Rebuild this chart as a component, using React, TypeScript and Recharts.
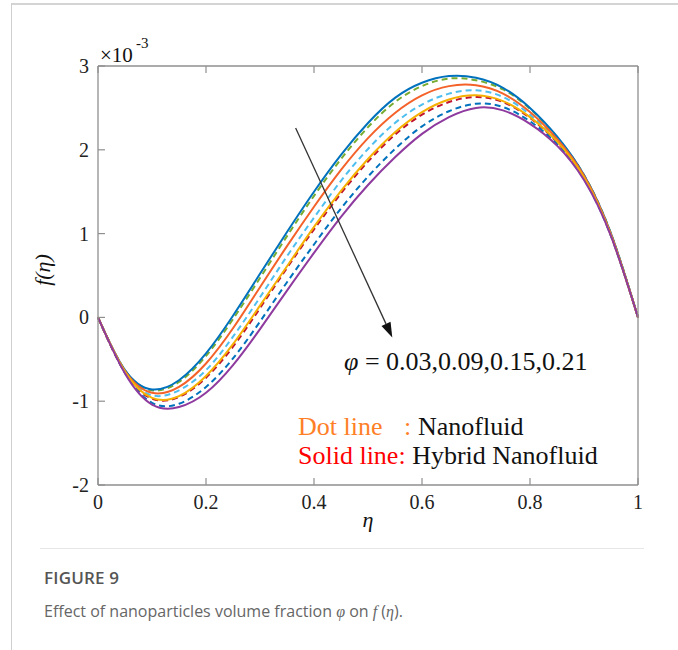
import React from "react";
import { LineChart, Line, XAxis, YAxis, ReferenceLine } from "recharts";

// η grid
const eta = [0, 0.05, 0.1, 0.15, 0.2, 0.25, 0.3, 0.35, 0.4, 0.45, 0.5, 0.55, 0.6, 0.65, 0.7, 0.75, 0.8, 0.85, 0.9, 0.95, 1];

// f(η) ×10^-3 — solid lines: Hybrid nanofluid, φ = 0.03, 0.09, 0.15, 0.21
const hybrid003 = [0, -0.63, -0.86, -0.75, -0.43, 0.02, 0.52, 1.02, 1.5, 1.94, 2.32, 2.62, 2.8, 2.88, 2.86, 2.74, 2.5, 2.16, 1.7, 1.0, 0];
const hybrid009 = [0, -0.64, -0.9, -0.83, -0.55, -0.13, 0.36, 0.85, 1.32, 1.76, 2.14, 2.44, 2.65, 2.76, 2.77, 2.67, 2.45, 2.13, 1.69, 0.99, 0];
const hybrid015 = [0, -0.65, -0.96, -0.94, -0.7, -0.32, 0.14, 0.61, 1.08, 1.51, 1.89, 2.21, 2.45, 2.6, 2.65, 2.58, 2.39, 2.1, 1.67, 0.98, 0];
const hybrid021 = [0, -0.67, -1.04, -1.07, -0.9, -0.57, -0.14, 0.32, 0.77, 1.2, 1.58, 1.91, 2.19, 2.39, 2.5, 2.47, 2.31, 2.05, 1.64, 0.97, 0];

// dashed lines: Nanofluid, φ = 0.03, 0.09, 0.15, 0.21
const nano003 = [0, -0.63, -0.87, -0.77, -0.46, -0.02, 0.47, 0.97, 1.45, 1.89, 2.27, 2.57, 2.76, 2.85, 2.83, 2.72, 2.49, 2.15, 1.7, 1.0, 0];
const nano009 = [0, -0.65, -0.93, -0.87, -0.63, -0.23, 0.24, 0.73, 1.19, 1.63, 2.01, 2.32, 2.54, 2.67, 2.71, 2.63, 2.42, 2.11, 1.68, 0.99, 0];
const nano015 = [0, -0.66, -0.97, -0.95, -0.72, -0.35, 0.11, 0.59, 1.05, 1.48, 1.86, 2.18, 2.42, 2.57, 2.63, 2.57, 2.38, 2.09, 1.66, 0.98, 0];
const nano021 = [0, -0.66, -1.02, -1.03, -0.83, -0.49, -0.05, 0.42, 0.87, 1.3, 1.68, 2.01, 2.28, 2.46, 2.55, 2.51, 2.34, 2.07, 1.65, 0.97, 0];

const xTicks = [0, 0.2, 0.4, 0.6, 0.8, 1];
const yTicks = [-2, -1, 0, 1, 2, 3];

const data = eta.map((e, i) => ({
  eta: e,
  h1: hybrid003[i],
  h2: hybrid009[i],
  h3: hybrid015[i],
  h4: hybrid021[i],
  n1: nano003[i],
  n2: nano009[i],
  n3: nano015[i],
  n4: nano021[i],
}));

const series = [
  { key: "n1", color: "#77AC30", dash: true },
  { key: "n2", color: "#4DBEEE", dash: true },
  { key: "n3", color: "#C0142F", dash: true },
  { key: "n4", color: "#0072BD", dash: true },
  { key: "h1", color: "#0072BD", dash: false },
  { key: "h2", color: "#F4622A", dash: false },
  { key: "h3", color: "#F5B000", dash: false },
  { key: "h4", color: "#8E3A9E", dash: false },
];

const AXIS = "#8f8f8f";
const SERIF = "'Liberation Serif', 'Times New Roman', serif";
const TL = 7;

const BottomTick = (p: any) => (
  <g>
    <line x1={p.x} y1={p.y} x2={p.x} y2={p.y - TL} stroke={AXIS} strokeWidth={1.2} />
    <text x={p.x} y={p.y + 24} textAnchor="middle" fontFamily={SERIF} fontSize={20} fill="#222">
      {String(p.payload.value)}
    </text>
  </g>
);
const TopTick = (p: any) => (
  <line x1={p.x} y1={p.y} x2={p.x} y2={p.y + TL} stroke={AXIS} strokeWidth={1.2} />
);
const LeftTick = (p: any) => (
  <g>
    <line x1={p.x} y1={p.y} x2={p.x + TL} y2={p.y} stroke={AXIS} strokeWidth={1.2} />
    <text x={p.x - 9} y={p.y + 7} textAnchor="end" fontFamily={SERIF} fontSize={20} fill="#222">
      {String(p.payload.value)}
    </text>
  </g>
);
const RightTick = (p: any) => (
  <line x1={p.x} y1={p.y} x2={p.x - TL} y2={p.y} stroke={AXIS} strokeWidth={1.2} />
);

const Arrow = (p: any) => {
  const { x1, y1, x2, y2 } = p;
  if ([x1, y1, x2, y2].some((v) => typeof v !== "number" || isNaN(v))) return null;
  const ang = Math.atan2(y2 - y1, x2 - x1);
  const L = 15;
  const W = 5;
  const bx = x2 - L * Math.cos(ang);
  const by = y2 - L * Math.sin(ang);
  const px = -Math.sin(ang) * W;
  const py = Math.cos(ang) * W;
  return (
    <g>
      <line x1={x1} y1={y1} x2={bx} y2={by} stroke="#333" strokeWidth={1.3} />
      <polygon points={`${x2},${y2} ${bx + px},${by + py} ${bx - px},${by - py}`} fill="#111" />
    </g>
  );
};

const axisLine = { stroke: AXIS, strokeWidth: 1.3 };

export default function App() {
  return (
    <div style={{ position: "absolute", left: 0, top: 0, width: 678, height: 650, background: "#fff", overflow: "hidden" }}>
      <div style={{ position: "absolute", left: 12, top: 3, width: 700, height: 2, background: "#d4d4d4" }} />
      <div style={{ position: "absolute", left: 11, top: 3, width: 1, height: 660, background: "#cfcfcf" }} />

      <div style={{ position: "absolute", left: 0, top: 0 }}>
        <LineChart width={678} height={550} data={data} margin={{ top: 65, right: 39, bottom: 64, left: 97 }}>
          <XAxis
            xAxisId="b"
            dataKey="eta"
            type="number"
            domain={[0, 1]}
            ticks={xTicks}
            height={1}
            tickSize={0}
            tickMargin={0}
            tickLine={false}
            axisLine={axisLine}
            tick={BottomTick}
            interval={0}
          />
          <XAxis
            xAxisId="t"
            orientation="top"
            dataKey="eta"
            type="number"
            domain={[0, 1]}
            ticks={xTicks}
            height={1}
            tickSize={0}
            tickMargin={0}
            tickLine={false}
            axisLine={axisLine}
            tick={TopTick}
            interval={0}
          />
          <YAxis
            yAxisId="l"
            type="number"
            domain={[-2, 3]}
            ticks={yTicks}
            width={1}
            tickSize={0}
            tickMargin={0}
            tickLine={false}
            axisLine={axisLine}
            tick={LeftTick}
            interval={0}
          />
          <YAxis
            yAxisId="r"
            orientation="right"
            type="number"
            domain={[-2, 3]}
            ticks={yTicks}
            width={1}
            tickSize={0}
            tickMargin={0}
            tickLine={false}
            axisLine={axisLine}
            tick={RightTick}
            interval={0}
          />
          {series.map((s) => (
            <Line
              key={s.key}
              xAxisId="b"
              yAxisId="l"
              dataKey={s.key}
              type="natural"
              stroke={s.color}
              strokeWidth={2}
              strokeDasharray={s.dash ? "6 4" : undefined}
              dot={false}
              activeDot={false}
              isAnimationActive={false}
            />
          ))}
          <ReferenceLine
            xAxisId="b"
            yAxisId="l"
            segment={[
              { x: 0.366, y: 2.26 },
              { x: 0.545, y: -0.24 },
            ]}
            shape={Arrow}
            ifOverflow="visible"
          />
        </LineChart>
      </div>

      <svg width={678} height={650} style={{ position: "absolute", left: 0, top: 0, pointerEvents: "none" }}>
        <g fontFamily={SERIF} fill="#111">
          <text x={100} y={62} fontSize={21}>
            ×10
          </text>
          <text x={136} y={48} fontSize={15}>
            -3
          </text>
          <text x={368} y={527} fontSize={22} fontStyle="italic" textAnchor="middle">
            η
          </text>
          <text x={50} y={270} fontSize={22} fontStyle="italic" textAnchor="middle" transform="rotate(-90 50 270)">
            f(η)
          </text>
          <text x={344} y={370} fontSize={26}>
            <tspan fontStyle="italic">φ</tspan>
            <tspan> = 0.03,0.09,0.15,0.21</tspan>
          </text>
          <text x={298} y={435} fontSize={26}>
            <tspan fill="#FF7F27">Dot line</tspan>
            <tspan fill="#FF7F27" x={404}>:</tspan>
            <tspan x={418}>Nanofluid</tspan>
          </text>
          <text x={298} y={464} fontSize={26}>
            <tspan fill="#FF0000">Solid line:</tspan>
            <tspan> Hybrid Nanofluid</tspan>
          </text>
        </g>
      </svg>

      <div style={{ position: "absolute", left: 40, top: 548, width: 604, height: 1, background: "#e6e6e6" }} />
      <div
        style={{
          position: "absolute",
          left: 44,
          top: 566,
          fontFamily: "'Open Sans', sans-serif",
          fontSize: 17,
          fontWeight: 600,
          color: "#555",
          letterSpacing: 0.2,
        }}
      >
        FIGURE 9
      </div>
      <div
        style={{
          position: "absolute",
          left: 44,
          top: 600,
          fontFamily: "'Open Sans', sans-serif",
          fontSize: 16,
          fontWeight: 400,
          color: "#666",
        }}
      >
        Effect of nanoparticles volume fraction <span style={{ fontStyle: "italic", fontFamily: SERIF }}>φ</span> on{" "}
        <span style={{ fontStyle: "italic", fontFamily: SERIF }}>f</span> (<span style={{ fontStyle: "italic", fontFamily: SERIF }}>η</span>).
      </div>
    </div>
  );
}
